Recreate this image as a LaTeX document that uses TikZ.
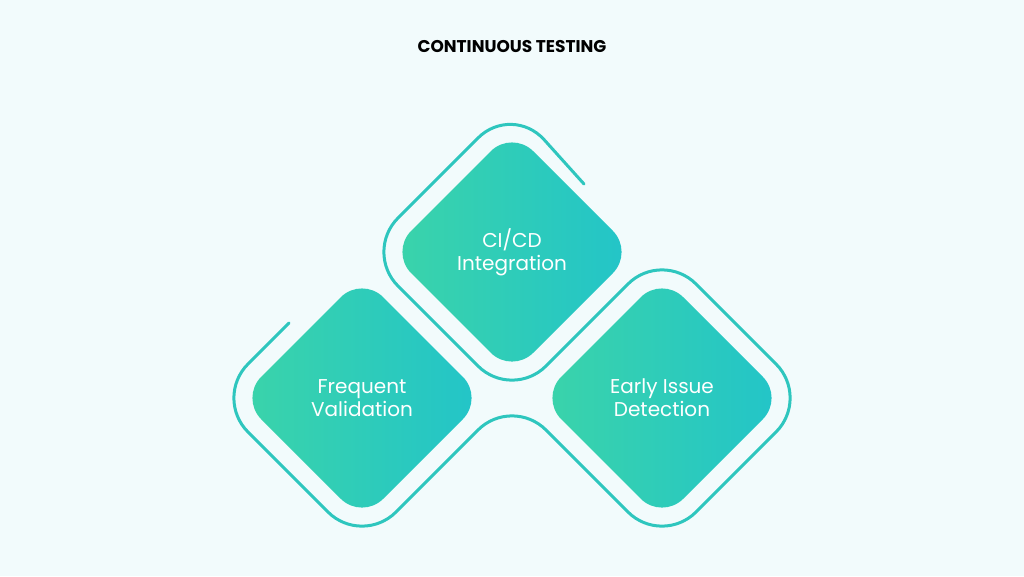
\documentclass[tikz,border=0pt]{standalone}
\usepackage{fontspec}
\setmainfont{Poppins}
\definecolor{bg}{HTML}{F2FBFC}
\definecolor{line}{HTML}{2EC6BE}
\definecolor{ga}{HTML}{3BD4A9}
\definecolor{gb}{HTML}{22C4C9}
\begin{document}
\begin{tikzpicture}[x=1pt,y=-1pt,
  dia/.style={left color=ga,right color=gb,rounded corners=30pt},
  lbl/.style={text=white,font=\fontsize{20}{23}\selectfont,align=center},
  outl/.style={draw=line,line width=3pt,rounded corners=48pt,line cap=round}]
\fill[bg] (0,0) rectangle (1024,576);
\useasboundingbox (0,0) rectangle (1024,576);
\node[font=\bfseries\fontsize{17}{20}\selectfont] (title) at (512,47) {CONTINUOUS TESTING};
% diamonds
\foreach \cx/\cy in {512/252,362/398,662/398}{
  \path[dia] (\cx,\cy-122) -- (\cx+122,\cy) -- (\cx,\cy+122) -- (\cx-122,\cy) -- cycle;
}
\node[lbl] (ci) at (512,252) {CI/CD\\Integration};
\node[lbl] (fv) at (362,398) {Frequent\\Validation};
\node[lbl] (ei) at (662,398) {Early Issue\\Detection};
% outline
\coordinate (s) at (584,184);
\coordinate (e) at (289,323);
\draw[outl] (s) -- (512,104) -- (364,252) -- (512,400) -- (662,250) -- (810,398) -- (662,546) -- (512,396) -- (362,546) -- (214,398) -- (e);
\end{tikzpicture}
\end{document}
